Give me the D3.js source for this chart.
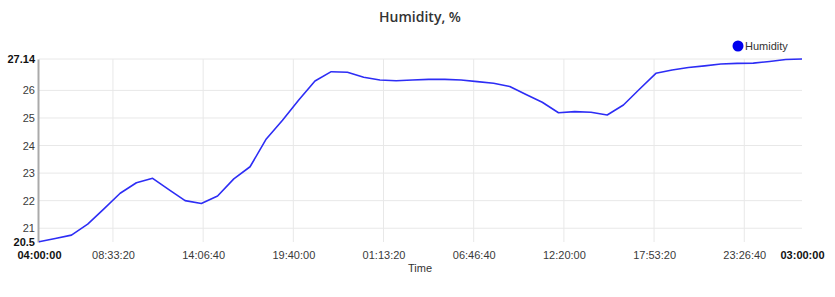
<!DOCTYPE html>
<html>
<head>
<meta charset="utf-8">
<script src="https://cdn.jsdelivr.net/npm/d3@7"></script>
<style>
  body { margin: 0; background: #fff; }
  svg { display: block; font-family: "Liberation Sans", Arial, sans-serif; }
  .grid line { stroke: #e8e8e8; stroke-width: 1; }
  .tick text { fill: #3a3a3a; font-size: 11px; }
  .tick text.end { fill: #111; font-weight: bold; }
</style>
</head>
<body>
<svg id="chart" width="835" height="297"></svg>
<script>
  // hours since 04:00:00 on day one, one reading per hour
  var hours = d3.range(48);
  var humidity = [
    20.51, 20.63, 20.75, 21.15, 21.70, 22.27, 22.65, 22.81, 22.40, 22.00,
    21.90, 22.17, 22.79, 23.23, 24.24, 24.92, 25.65, 26.34, 26.68, 26.66,
    26.48, 26.38, 26.35, 26.38, 26.40, 26.40, 26.38, 26.32, 26.26, 26.14,
    25.85, 25.57, 25.19, 25.23, 25.21, 25.11, 25.47, 26.05, 26.62, 26.74,
    26.83, 26.89, 26.96, 26.98, 26.99, 27.05, 27.12, 27.14
  ];
  var yTicks = [20.5, 21, 22, 23, 24, 25, 26, 27.14];
  var yLabels = ["20.5", "21", "22", "23", "24", "25", "26", "27.14"];
  // tick positions in seconds from the start
  var xTicks = [0, 16400, 36400, 56400, 76400, 96400, 116400, 136400, 156400, 169200];
  var xLabels = ["04:00:00", "08:33:20", "14:06:40", "19:40:00", "01:13:20",
                 "06:46:40", "12:20:00", "17:53:20", "23:26:40", "03:00:00"];

  var svg = d3.select("#chart");
  var plotLeft = 39, plotRight = 802, plotTop = 59, plotBottom = 242;

  var x = d3.scaleLinear().domain([0, 47 * 3600]).range([plotLeft, plotRight]);
  var y = d3.scaleLinear().domain([20.5, 27.14]).range([plotBottom, plotTop]);

  // grid
  var grid = svg.append("g").attr("class", "grid");
  grid.selectAll(".h")
      .data(yTicks.filter(function(d) { return d > 20.5; }))
      .enter().append("line")
      .attr("x1", plotLeft).attr("x2", plotRight)
      .attr("y1", function(d) { return y(d); })
      .attr("y2", function(d) { return y(d); });
  grid.selectAll(".v")
      .data(xTicks.slice(1, -1))
      .enter().append("line")
      .attr("y1", plotTop).attr("y2", plotBottom)
      .attr("x1", function(d) { return x(d); })
      .attr("x2", function(d) { return x(d); });

  // y axis
  var yAxis = svg.append("g")
      .attr("transform", "translate(" + (plotLeft - 1) + ",0)")
      .call(d3.axisLeft(y).tickValues(yTicks).tickSize(0).tickPadding(3)
        .tickFormat(function(d, i) { return yLabels[i]; }));
  yAxis.select(".domain").attr("stroke", "#aaa").attr("stroke-width", 2);
  yAxis.selectAll(".tick text")
      .classed("end", function(d, i) { return i == 0 || i == yTicks.length - 1; });

  // x axis
  var xAxis = svg.append("g")
      .attr("transform", "translate(0," + plotBottom + ")")
      .call(d3.axisBottom(x).tickValues(xTicks).tickSize(0).tickPadding(9)
        .tickFormat(function(d, i) { return xLabels[i]; }));
  xAxis.select(".domain").remove();
  xAxis.selectAll(".tick text")
      .classed("end", function(d, i) { return i == 0 || i == xTicks.length - 1; });

  // line
  var line = d3.line()
      .x(function(d, i) { return x(hours[i] * 3600); })
      .y(function(d) { return y(d); });
  svg.append("path")
      .datum(humidity)
      .attr("fill", "none")
      .attr("stroke", "#2d2df5")
      .attr("stroke-width", 1.6)
      .attr("stroke-linejoin", "round")
      .attr("d", line);

  // title and axis label
  svg.append("text")
      .attr("x", 420).attr("y", 22)
      .attr("text-anchor", "middle")
      .style("font-family", "'Open Sans', sans-serif")
      .style("font-size", "14px")
      .style("font-weight", "600")
      .attr("fill", "#333")
      .text("Humidity, %");
  svg.append("text")
      .attr("x", 420).attr("y", 272)
      .attr("text-anchor", "middle")
      .style("font-size", "11px")
      .attr("fill", "#333")
      .text("Time");

  // legend
  svg.append("circle")
      .attr("cx", 738).attr("cy", 46).attr("r", 5.5)
      .attr("fill", "#0000ee");
  svg.append("text")
      .attr("x", 745).attr("y", 50)
      .style("font-size", "11px")
      .attr("fill", "#333")
      .text("Humidity");
</script>
</body>
</html>
